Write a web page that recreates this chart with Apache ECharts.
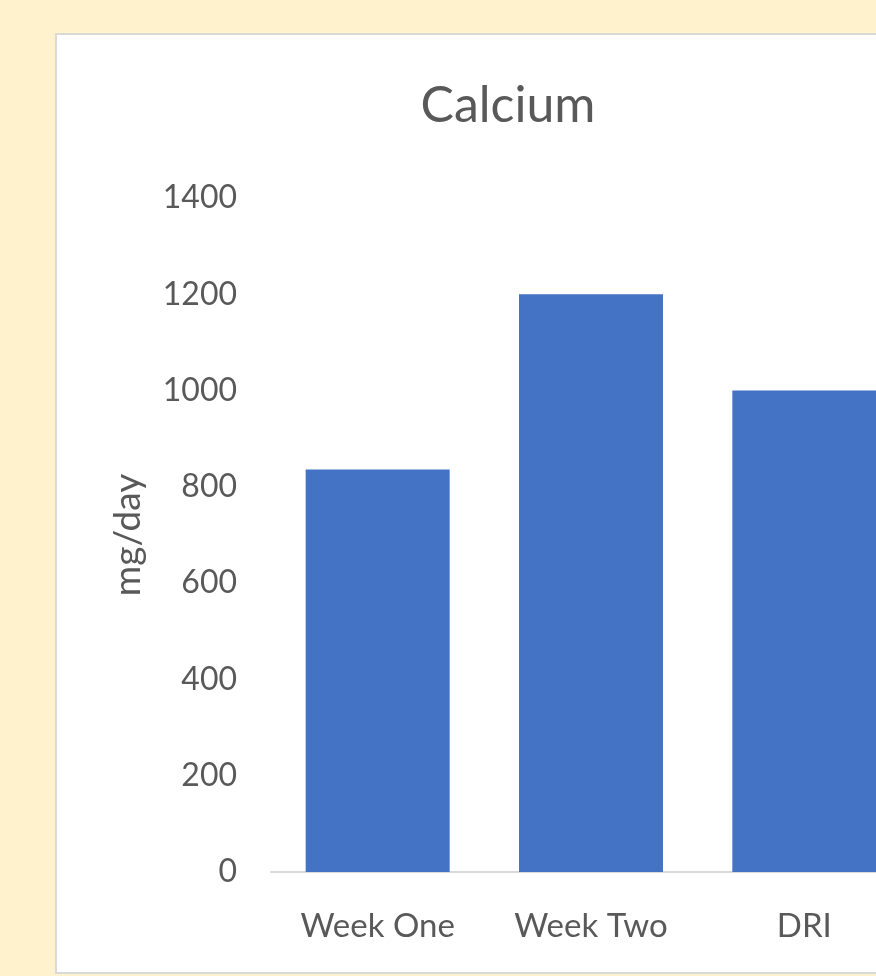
<!DOCTYPE html>
<html>
<head>
<meta charset="utf-8">
<style>
  html, body { margin: 0; padding: 0; background: #FFF2CC; }
  #chart { width: 876px; height: 976px; }
</style>
<script src="https://cdn.jsdelivr.net/npm/echarts@6/dist/echarts.min.js"></script>
</head>
<body>
<div id="chart"></div>
<script>
// Calcium intake per week compared with the DRI
const categories = ['Week One', 'Week Two', 'DRI'];
const calcium = [836, 1200, 1000];
const yTicks = { min: 0, max: 1400, interval: 200 };

const textColor = '#595959';
const fontFamily = 'Lato, "Open Sans", sans-serif';

const chart = echarts.init(document.getElementById('chart'), null, { renderer: 'canvas' });
chart.setOption({
  backgroundColor: '#FFF2CC',
  animation: false,
  graphic: [{
    type: 'rect',
    z: -10,
    shape: { x: 56, y: 34, width: 900, height: 939 },
    style: { fill: '#ffffff', stroke: '#d9d9d9', lineWidth: 2 }
  }],
  title: {
    text: 'Calcium',
    left: 503,
    top: 76,
    textAlign: 'center',
    textStyle: { color: textColor, fontFamily: fontFamily, fontSize: 50, fontWeight: 'normal' }
  },
  // the plot area runs past the right edge, so the last bar is clipped by the page
  grid: {
    left: 271, width: 640, top: 198, bottom: 104,
    containLabel: false,
    outerBoundsMode: 'none'
  },
  xAxis: {
    type: 'category',
    data: categories,
    axisLine: { lineStyle: { color: '#d9d9d9', width: 2 } },
    axisTick: { show: false },
    axisLabel: { color: textColor, fontFamily: fontFamily, fontSize: 33, margin: 38 }
  },
  yAxis: {
    type: 'value',
    min: yTicks.min,
    max: yTicks.max,
    interval: yTicks.interval,
    name: 'mg/day',
    nameLocation: 'middle',
    nameGap: 124,
    nameTextStyle: { color: textColor, fontFamily: fontFamily, fontSize: 37 },
    axisLine: { show: false },
    axisTick: { show: false },
    splitLine: { show: false },
    axisLabel: {
      color: textColor, fontFamily: fontFamily, fontSize: 32, margin: 34,
      formatter: (v) => String(v)
    }
  },
  series: [{
    type: 'bar',
    data: calcium,
    barCategoryGap: '32.5%',
    itemStyle: { color: '#4472C4' }
  }]
});
</script>
</body>
</html>
